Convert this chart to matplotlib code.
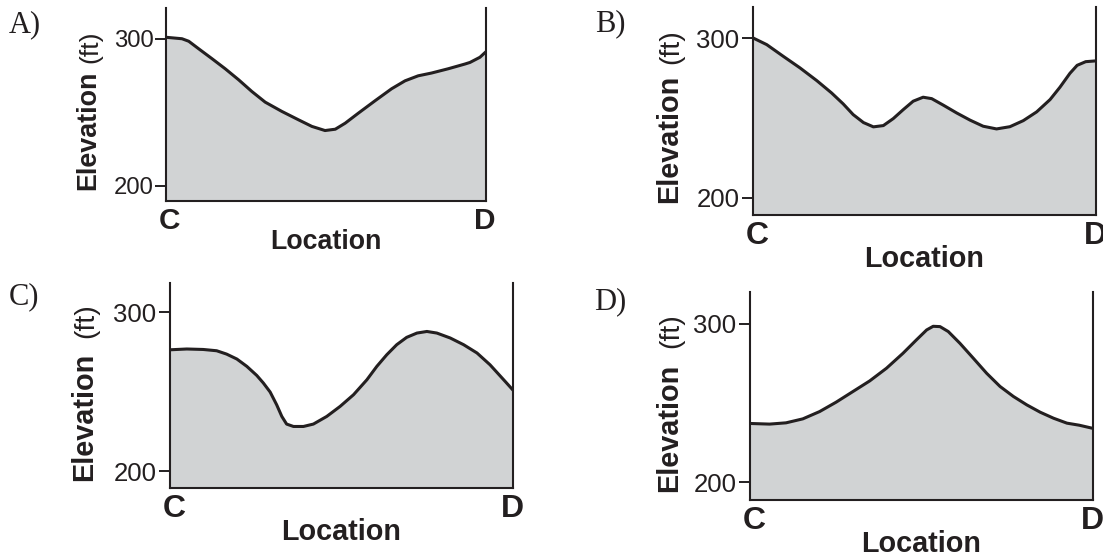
import matplotlib
matplotlib.use('Agg')
import matplotlib.pyplot as plt

plt.rcParams['font.family'] = ['Liberation Sans', 'DejaVu Sans']

# position along the C-D line (0 = C, 1 = D) and elevation in ft
a_dist = [0.0, 0.05, 0.071, 0.102, 0.144, 0.185, 0.227, 0.268, 0.31, 0.362,
          0.414, 0.456, 0.497, 0.529, 0.56, 0.601, 0.653, 0.705, 0.747, 0.788,
          0.83, 0.882, 0.934, 0.95, 0.981, 1.0]
a_elev = [301.1, 300.1, 298.4, 293.3, 286.5, 279.7, 272.2, 264.3, 257.0, 250.7,
          245.0, 240.5, 237.7, 238.6, 242.7, 249.5, 257.9, 266.1, 271.5, 274.9,
          276.8, 279.7, 282.9, 284.0, 287.5, 291.3]

b_dist = [0.0, 0.04, 0.088, 0.137, 0.186, 0.229, 0.263, 0.292, 0.322, 0.351,
          0.38, 0.409, 0.438, 0.467, 0.496, 0.521, 0.555, 0.594, 0.633, 0.671,
          0.71, 0.749, 0.788, 0.827, 0.866, 0.895, 0.924, 0.945, 0.97, 1.0]
b_elev = [300.2, 296.0, 288.7, 281.4, 273.4, 265.7, 258.8, 252.1, 247.1, 244.4,
          245.2, 249.6, 255.2, 260.5, 263.0, 262.1, 258.0, 253.1, 248.6, 244.8,
          243.1, 244.5, 248.3, 253.8, 261.5, 269.3, 278.0, 283.0, 285.3, 285.8]

c_dist = [0.0, 0.049, 0.097, 0.136, 0.165, 0.195, 0.224, 0.253, 0.272, 0.292,
          0.311, 0.326, 0.34, 0.36, 0.389, 0.418, 0.457, 0.496, 0.535, 0.574,
          0.603, 0.632, 0.661, 0.69, 0.72, 0.749, 0.778, 0.817, 0.856, 0.895,
          0.933, 0.977, 1.0]
c_elev = [276.3, 276.8, 276.5, 275.7, 273.6, 270.5, 265.9, 260.2, 255.5, 249.8,
          241.8, 234.5, 229.7, 228.2, 228.2, 229.7, 234.5, 240.8, 248.1, 257.5,
          265.9, 273.2, 279.5, 284.1, 286.8, 287.8, 286.8, 283.7, 279.5, 274.3,
          266.9, 256.5, 251.0]

d_dist = [0.0, 0.057, 0.105, 0.154, 0.203, 0.251, 0.3, 0.349, 0.398, 0.446,
          0.485, 0.515, 0.534, 0.554, 0.578, 0.612, 0.651, 0.69, 0.729, 0.768,
          0.807, 0.846, 0.885, 0.924, 0.96, 1.0]
d_elev = [237.1, 236.7, 237.5, 240.0, 244.6, 250.5, 257.2, 263.9, 271.9, 281.3,
          289.7, 296.0, 298.3, 298.1, 295.0, 287.6, 278.2, 268.7, 260.4, 254.1,
          248.8, 244.2, 240.4, 237.3, 236.0, 234.0]

panel_names = ['A)', 'B)', 'C)', 'D)']
y_ticks = [200, 300]
end_labels = ['C', 'D']

W, H = 1103, 556
fill_grey = '#d1d3d4'
ink = '#231f20'


def px_rect(left, top, right, bottom):
    return [left / W, 1 - bottom / H, (right - left) / W, (bottom - top) / H]


def fig_xy(x, y):
    return x / W, 1 - y / H


def draw_profile(fig, rect, dist, elev, ylim, s):
    ax = fig.add_axes(rect)
    ax.fill_between(dist, elev, ylim[0], color=fill_grey, lw=0, zorder=1)
    ax.plot(dist, elev, color=ink, lw=2.2, solid_joinstyle='round',
            solid_capstyle='round', zorder=2)
    ax.set_xlim(0, 1)
    ax.set_ylim(*ylim)
    ax.set_facecolor('none')
    ax.spines['top'].set_visible(False)
    for side in ['left', 'right', 'bottom']:
        ax.spines[side].set_linewidth(1.5)
        ax.spines[side].set_color(ink)
    ax.set_yticks(y_ticks)
    ax.tick_params(axis='y', direction='out', length=8.2 * s, width=1.4,
                   pad=1.5, labelsize=18.5 * s, colors=ink)
    ax.set_xticks([0.012, 0.997], end_labels)
    ax.tick_params(axis='x', length=0, pad=4, labelsize=23 * s, colors=ink)
    for lab in ax.get_xticklabels():
        lab.set_fontweight('bold')
    ax.set_xlabel('Location', fontsize=20.7 * s, fontweight='bold',
                  labelpad=-4, color=ink)
    return ax


fig = plt.figure(figsize=(W / 100, H / 100), dpi=100)

# panel layout in pixels: axes box, elevation label spots, panel tag spot
panels = [
    (a_dist, a_elev, (166, 8, 486, 201), (189.8, 321.0), 0.93,
     (88.5, 130), (90.5, 47), (25, 25)),
    (b_dist, b_elev, (753, 7, 1096, 215), (189.1, 319.6), 1.0,
     (669.5, 139), (671.5, 47), (610, 24)),
    (c_dist, c_elev, (170, 283, 513, 488), (189.6, 318.2), 1.0,
     (84, 417), (86, 321), (24, 297)),
    (d_dist, d_elev, (750, 292, 1093, 500), (188.9, 319.9), 1.0,
     (669, 428), (671, 331), (610, 302)),
]

for name, (dist, elev, box, ylim, s, elev_xy, ft_xy, tag_xy) in zip(panel_names, panels):
    draw_profile(fig, px_rect(*box), dist, elev, ylim, s)
    fig.text(*fig_xy(*elev_xy), 'Elevation', rotation=90, ha='center',
             va='center', fontsize=20.8 * s, fontweight='bold', color=ink)
    fig.text(*fig_xy(*ft_xy), '(ft)', rotation=90, ha='center',
             va='center', fontsize=20.5 * s, color=ink)
    fig.text(*fig_xy(*tag_xy), name, ha='center', va='center', fontsize=22,
             family=['Liberation Serif', 'DejaVu Serif'], color=ink)

fig.savefig('out.png', dpi=100)
